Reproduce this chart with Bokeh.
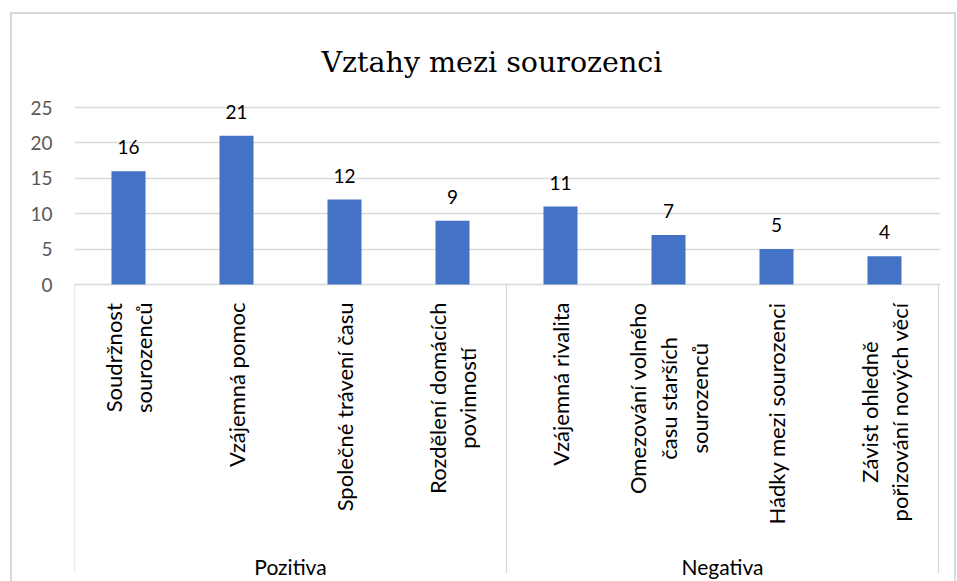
import numpy as np
from math import pi
from bokeh.plotting import figure
from bokeh.models import Range1d, FixedTicker
from bokeh.core.properties import value
from bokeh.embed import file_html
from bokeh.resources import INLINE

# ---------------- data ----------------
chart_title = "Vztahy mezi sourozenci"
groups = ["Pozitiva", "Negativa"]
group_sizes = [4, 4]
categories = [
    "Soudržnost\nsourozenců",
    "Vzájemná pomoc",
    "Společné trávení času",
    "Rozdělení domácích\npovinností",
    "Vzájemná rivalita",
    "Omezování volného\nčasu starších\nsourozenců",
    "Hádky mezi sourozenci",
    "Závist ohledně\npořizování nových věcí",
]
values = [16, 21, 12, 9, 11, 7, 5, 4]
y_ticks = [0, 5, 10, 15, 20, 25]

# ---------------- layout ----------------
# host box (incl. 2px chart border) sits at page (10, 12); the canvas starts
# at page (12, 14) and its last few px on the right / bottom are hidden.
W, H = 946, 569
B_LEFT, B_RIGHT, B_TOP = 62, 18, 81
PX_PER_CAT = 108.0
PX_PER_UNIT = 7.08
ZERO_FROM_FRAME_TOP = 189      # px between frame top and value 0
SEP_BOTTOM_GAP = 10            # separators stop this many px above canvas bottom
GROUP_LABEL_GAP = 17           # group label baseline above canvas bottom

frame_w = W - B_LEFT - B_RIGHT
frame_h = H - B_TOP
y_end = ZERO_FROM_FRAME_TOP / PX_PER_UNIT
y_start = y_end - frame_h / PX_PER_UNIT
y_sep = y_start + SEP_BOTTOM_GAP / PX_PER_UNIT
x_end = frame_w / PX_PER_CAT

SANS = "Lato"
GRID = "#d9d9d9"

p = figure(
    width=W, height=H,
    x_range=Range1d(0, x_end), y_range=Range1d(y_start, y_end),
    output_backend="svg", toolbar_location=None,
    x_axis_type=None,
    min_border_left=B_LEFT, min_border_right=B_RIGHT,
    min_border_top=B_TOP, min_border_bottom=0,
    title=chart_title,
)
p.outline_line_color = None
p.background_fill_color = "white"
p.border_fill_color = "white"
p.styles = {"border": "2px solid #d9d9d9", "border-bottom": "none",
            "margin-left": "10px", "margin-top": "12px"}

p.title.align = "left"
p.title.offset = 247
p.title.text_font = "DejaVu Serif"
p.title.text_font_size = "28.5px"
p.title.text_font_style = "normal"
p.title.text_color = "#000000"
p.title.standoff = 34

# y axis
p.yaxis.ticker = FixedTicker(ticks=y_ticks)
p.yaxis.axis_line_color = None
p.yaxis.major_tick_line_color = None
p.yaxis.minor_tick_line_color = None
p.yaxis.major_tick_out = 0
p.yaxis.major_label_standoff = 22
p.yaxis.major_label_text_font = SANS
p.yaxis.major_label_text_font_size = "19px"
p.yaxis.major_label_text_color = "#595959"

p.ygrid.ticker = FixedTicker(ticks=y_ticks)
p.ygrid.grid_line_color = GRID
p.ygrid.grid_line_width = 1.3
p.xgrid.visible = False

xs = np.arange(len(categories)) + 0.5

# bars
p.vbar(x=xs, top=values, width=0.315, fill_color="#4472C4", line_color=None)

# data labels
p.text(x=xs, y=values, text=[str(v) for v in values],
       text_align="center", text_baseline="alphabetic", y_offset=-24,
       text_font=value(SANS), text_font_size="19px", text_color="#000000")

# category labels (vertical)
p.text(x=xs, y=[0] * len(xs), text=categories, angle=pi / 2,
       anchor="center_right", text_align="center", text_baseline="middle",
       x_offset=0, y_offset=18, text_line_height=1.13,
       text_font=value(SANS), text_font_size="22px", text_color="#000000")

# group separators
bounds = np.concatenate([[0], np.cumsum(group_sizes)])
p.segment(x0=bounds, y0=[0] * len(bounds), x1=bounds, y1=[y_sep] * len(bounds),
          line_color=GRID, line_width=1.3)

# group labels
starts = bounds[:-1]
centers = starts + np.array(group_sizes) / 2
p.text(x=centers, y=[y_start] * len(centers), text=groups,
       text_align="center", text_baseline="alphabetic", y_offset=-GROUP_LABEL_GAP,
       text_font=value(SANS), text_font_size="21px", text_color="#000000")

open("out.html", "w").write(file_html(p, INLINE))
